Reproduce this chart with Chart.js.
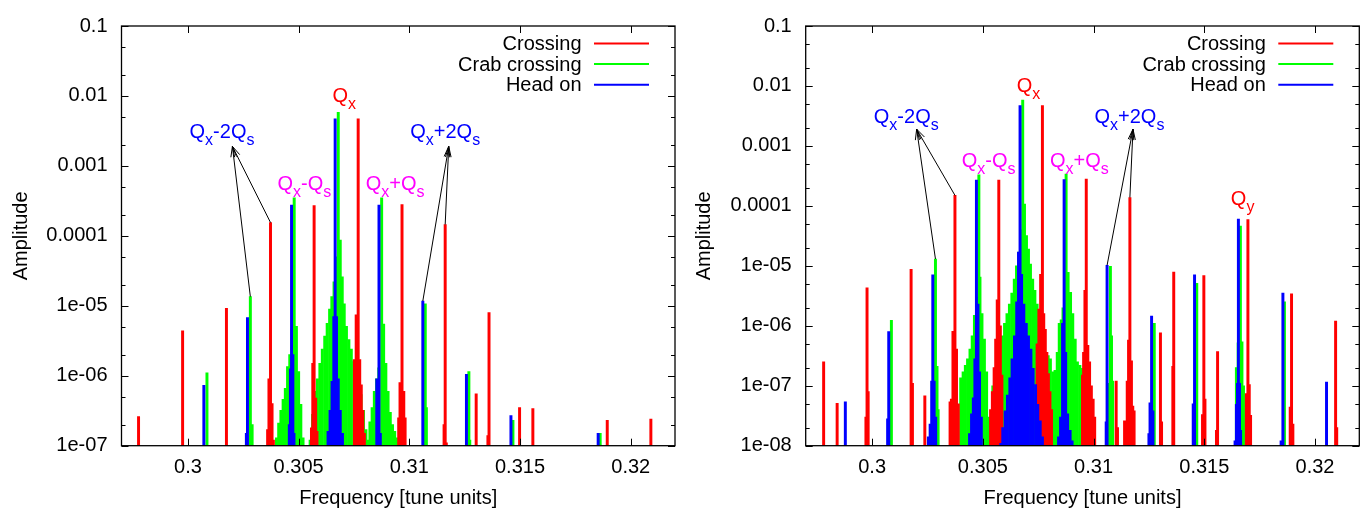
<!DOCTYPE html>
<html>
<head>
<meta charset="utf-8">
<script src="https://cdn.jsdelivr.net/npm/chart.js@4.4.1/dist/chart.umd.min.js"></script>
<style>
  html, body { margin: 0; padding: 0; background: #fff; }
  #wrap { position: relative; width: 1366px; height: 510px; }
  canvas { position: absolute; top: 0; }
</style>
</head>
<body>
<div id="wrap">
  <canvas id="left" width="683" height="510" style="left:0"></canvas>
  <canvas id="right" width="683" height="510" style="left:683px"></canvas>
</div>
<script>
// series (frequency [tune units], amplitude)
const seriesNames = ['Crossing', 'Crab crossing', 'Head on'];
const seriesColors = ['#ff0000', '#00ff00', '#0000ff'];

const xTicks = [0.3, 0.305, 0.31, 0.315, 0.32];
const xTickLabels = ['0.3', '0.305', '0.31', '0.315', '0.32'];
const yTicksLeft = [1e-7, 1e-6, 1e-5, 1e-4, 1e-3, 1e-2, 1e-1];
const yTickLabelsLeft = ['1e-07', '1e-06', '1e-05', '0.0001', '0.001', '0.01', '0.1'];
const yTicksRight = [1e-8, 1e-7, 1e-6, 1e-5, 1e-4, 1e-3, 1e-2, 1e-1];
const yTickLabelsRight = ['1e-08', '1e-07', '1e-06', '1e-05', '0.0001', '0.001', '0.01', '0.1'];

const crossingLeft = [
  [0.29777, 2.6e-7],
  [0.29976, 4.4e-6],
  [0.30174, 9.2e-6],
  [0.30360, 1.7e-7], [0.30366, 9e-7], [0.30373, 1.55e-4], [0.30380, 4e-7], [0.30386, 1.2e-7],
  [0.30558, 1.8e-7], [0.30564, 1.5e-6], [0.30570, 2.7e-4], [0.30577, 4.8e-7], [0.30583, 1.6e-7],
  [0.30752, 1.7e-6], [0.30760, 7.4e-6], [0.30769, 4.7e-3], [0.30776, 1.7e-6], [0.30783, 7.4e-7], [0.30790, 3.2e-7], [0.30797, 1.5e-7],
  [0.30952, 2.5e-7], [0.30958, 8e-7], [0.30967, 2.8e-4], [0.30975, 6e-7], [0.30981, 2.5e-7],
  [0.31157, 2e-7], [0.31162, 1.45e-4], [0.31167, 1.1e-7],
  [0.31302, 5.5e-7],
  [0.31355, 1.4e-7], [0.31360, 8e-6],
  [0.31498, 3.5e-7],
  [0.31558, 3.4e-7],
  [0.31894, 2.3e-7],
  [0.32091, 2.4e-7]
];

const crabLeft = [
  [0.30086, 1.1e-6],
  [0.30282, 1.35e-5], [0.30290, 2e-7],
  [0.30400, 1.3e-7], [0.30410, 2.1e-7], [0.30420, 3.2e-7], [0.30430, 4.6e-7], [0.30440, 6.6e-7],
  [0.30450, 1.35e-6], [0.30460, 2.0e-6], [0.30470, 4.7e-6], [0.30480, 3.5e-4], [0.30490, 5.1e-6],
  [0.30500, 1.15e-6], [0.30510, 3.9e-7], [0.30520, 1.3e-7],
  [0.30552, 1.2e-7], [0.30563, 2.8e-7], [0.30574, 6e-7], [0.30585, 9e-7], [0.30596, 1.5e-6],
  [0.30607, 2.4e-6], [0.30618, 3.7e-6], [0.30629, 5.6e-6], [0.30640, 9e-6], [0.30650, 1.35e-5],
  [0.30660, 2.2e-5], [0.30670, 5e-5], [0.30679, 5.85e-3], [0.30688, 8.7e-5], [0.30697, 2.6e-5],
  [0.30706, 1.07e-5], [0.30716, 5.1e-6], [0.30727, 3.3e-6], [0.30738, 2.4e-6], [0.30749, 1.6e-6],
  [0.30760, 1.26e-6], [0.30771, 8.3e-7], [0.30782, 5.4e-7], [0.30793, 3.2e-7], [0.30804, 1.7e-7],
  [0.30815, 1.2e-7],
  [0.30822, 2.2e-7], [0.30832, 3.5e-7], [0.30842, 6e-7], [0.30852, 9e-7], [0.30862, 1.3e-6],
  [0.30875, 3.5e-4], [0.30884, 5.5e-6], [0.30894, 1.5e-6], [0.30904, 6e-7], [0.30914, 3e-7],
  [0.30924, 2e-7], [0.30934, 1.6e-7], [0.30944, 1.3e-7],
  [0.31067, 1.3e-7], [0.31072, 1.07e-5], [0.31077, 3.5e-7],
  [0.31269, 1.15e-6], [0.31273, 1.2e-7],
  [0.31468, 2.3e-7],
  [0.31862, 1.5e-7]
];

const headOnLeft = [
  [0.30072, 7.3e-7],
  [0.30264, 1.5e-7], [0.30269, 6.8e-6],
  [0.30458, 2e-7], [0.30463, 1.26e-6], [0.30468, 2.75e-4], [0.30474, 2e-6], [0.30479, 1.5e-7],
  [0.30633, 1.6e-7], [0.30642, 3.2e-7], [0.30651, 8.3e-7], [0.30659, 7e-6], [0.30665, 4.7e-3],
  [0.30671, 7e-6], [0.30679, 9e-7], [0.30688, 3.2e-7], [0.30698, 1.5e-7],
  [0.30853, 9e-7], [0.30863, 2.75e-4], [0.30869, 1.5e-7],
  [0.31061, 1.17e-5],
  [0.31258, 1.05e-6],
  [0.31459, 2.7e-7],
  [0.31853, 1.5e-7]
];

const crossingRight = [
  [0.29781, 2.5e-7],
  [0.29842, 5.1e-8],
  [0.29972, 3e-8], [0.29977, 4.3e-6], [0.29982, 8e-8],
  [0.30176, 8.7e-6], [0.30182, 1.1e-7],
  [0.30238, 6.8e-8],
  [0.30352, 5.4e-8], [0.30358, 6e-8], [0.30365, 8.1e-7], [0.30374, 1.5e-4], [0.30381, 4.1e-7], [0.30389, 5e-8],
  [0.30535, 4e-8], [0.30543, 8e-8], [0.30551, 2e-7], [0.30558, 6e-7], [0.30565, 2.7e-6], [0.30572, 2.7e-4],
  [0.30579, 1e-6], [0.30586, 1.5e-7],
  [0.30745, 5e-7], [0.30753, 1.9e-6], [0.30761, 7.2e-6], [0.30769, 4.7e-3], [0.30775, 1.6e-6],
  [0.30782, 8.7e-7], [0.30789, 3.6e-7], [0.30796, 1.6e-7], [0.30803, 8e-8], [0.30810, 4e-8],
  [0.30950, 1.5e-7], [0.30955, 3.6e-7], [0.30961, 3.9e-6], [0.30967, 2.8e-4], [0.30974, 4.7e-7],
  [0.30982, 2.5e-7], [0.30990, 1e-7], [0.30998, 6e-8], [0.31005, 3e-8],
  [0.31102, 1.2e-7], [0.31108, 2e-8],
  [0.31140, 2.6e-8], [0.31152, 1.2e-7], [0.31158, 5.8e-7], [0.31164, 1.38e-4], [0.31171, 2.6e-7],
  [0.31177, 4.6e-8], [0.31183, 3.8e-8],
  [0.31302, 7.6e-7], [0.31307, 2.5e-8],
  [0.31358, 2.1e-7], [0.31362, 7.9e-6],
  [0.31492, 3.3e-8], [0.31498, 6.9e-6], [0.31503, 6e-8],
  [0.31555, 1.8e-8], [0.31560, 3.7e-7],
  [0.31690, 7.4e-8], [0.31697, 5.9e-5], [0.31703, 1.05e-7], [0.31709, 3.2e-8],
  [0.31888, 4.4e-8], [0.31894, 3.4e-6], [0.31900, 2.3e-8],
  [0.32093, 1.2e-6], [0.32098, 2e-8]
];

const crabRight = [
  [0.30087, 1.23e-6],
  [0.30286, 1.3e-5], [0.30293, 2.1e-7], [0.30298, 4e-8],
  [0.30400, 1.35e-7], [0.30411, 1.7e-7], [0.30421, 2.2e-7], [0.30431, 2.8e-7], [0.30442, 4.1e-7],
  [0.30452, 6.8e-7], [0.30462, 1.5e-6], [0.30472, 3e-6], [0.30482, 3.3e-4], [0.30487, 6.5e-6],
  [0.30496, 1.6e-6], [0.30507, 6e-7], [0.30517, 1.7e-7], [0.30526, 3e-8],
  [0.30545, 1e-7], [0.30556, 1.8e-7], [0.30566, 2.8e-7], [0.30577, 4.1e-7], [0.30588, 6.8e-7],
  [0.30598, 1.1e-6], [0.30609, 1.6e-6], [0.30620, 2.3e-6], [0.30631, 3.5e-6], [0.30642, 6e-6],
  [0.30652, 1e-5], [0.30663, 1.7e-5], [0.30672, 4e-5], [0.30680, 5.8e-3], [0.30688, 1.07e-4],
  [0.30697, 3.2e-5], [0.30706, 1.9e-5], [0.30715, 1.07e-5], [0.30725, 6e-6], [0.30735, 3.9e-6],
  [0.30745, 2.3e-6], [0.30755, 1.5e-6], [0.30765, 8.1e-7], [0.30775, 6e-7], [0.30785, 3.6e-7],
  [0.30795, 3.2e-7], [0.30805, 2.8e-7], [0.30816, 1.7e-7], [0.30826, 1.8e-7], [0.30836, 3.6e-7],
  [0.30845, 1.1e-6], [0.30854, 1.26e-6], [0.30862, 2e-6], [0.30876, 3.4e-4], [0.30885, 7.8e-6],
  [0.30896, 3.6e-6], [0.30906, 1.6e-6], [0.30917, 6e-7], [0.30927, 2.5e-7], [0.30938, 2.2e-7],
  [0.30948, 1.95e-7], [0.30958, 1.95e-7], [0.30968, 1.5e-7], [0.30978, 1e-7], [0.30988, 5e-8],
  [0.31068, 1.1e-7], [0.31076, 9.8e-6], [0.31081, 6.8e-7], [0.31086, 1.2e-7],
  [0.31268, 2.2e-7], [0.31274, 1.1e-6],
  [0.31466, 5.1e-6],
  [0.31645, 2e-7], [0.31653, 5.2e-7], [0.31663, 4.6e-5], [0.31670, 5.4e-7], [0.31677, 1e-7],
  [0.31858, 3e-8], [0.31862, 2.5e-6]
];

const headOnRight = [
  [0.29879, 5.4e-8],
  [0.30070, 2.8e-8], [0.30075, 8e-7],
  [0.30254, 1.4e-8], [0.30262, 2.3e-8], [0.30269, 1.2e-7], [0.30274, 7.1e-6], [0.30280, 1.2e-7], [0.30287, 3e-8],
  [0.30440, 1.6e-8], [0.30449, 3.4e-8], [0.30457, 6.3e-8], [0.30464, 2.8e-7], [0.30471, 2.7e-4],
  [0.30478, 2.3e-6], [0.30485, 1.7e-7], [0.30493, 3e-8],
  [0.30581, 1.1e-8], [0.30590, 2e-8], [0.30601, 3.8e-8], [0.30611, 7e-8], [0.30622, 1.35e-7],
  [0.30632, 2.8e-7], [0.30643, 6.8e-7], [0.30653, 2.5e-6], [0.30661, 1.7e-5], [0.30668, 4.7e-3],
  [0.30675, 7.2e-6], [0.30685, 2.3e-6], [0.30696, 1.1e-6], [0.30706, 6.8e-7], [0.30717, 4.1e-7],
  [0.30727, 1.95e-7], [0.30738, 1.05e-7], [0.30748, 4.9e-8], [0.30759, 2.6e-8], [0.30769, 1.4e-8],
  [0.30842, 1.4e-8], [0.30851, 3e-8], [0.30860, 1.1e-6], [0.30867, 2.75e-4], [0.30874, 3.6e-7],
  [0.30883, 3.4e-8], [0.30894, 1.8e-8], [0.30903, 1.2e-8],
  [0.31057, 2.5e-8], [0.31061, 1.02e-5],
  [0.31250, 1.6e-8], [0.31255, 5.2e-8], [0.31262, 1.45e-6], [0.31268, 3.8e-8],
  [0.31450, 5e-8], [0.31456, 7.1e-6],
  [0.31639, 1.2e-8], [0.31645, 4.9e-8], [0.31650, 1.1e-7], [0.31654, 6e-5], [0.31659, 1.1e-7], [0.31664, 1.8e-8],
  [0.31847, 1.2e-8], [0.31855, 3.5e-6],
  [0.32052, 1.15e-7]
];

// annotations: text ('_' = subscript next char), frequency, amplitude, colour
const peakLabels = [
  ['Q_x-2Q_s', 0.30154, 3.2e-3, '#0000ff'],
  ['Q_x+2Q_s', 0.31162, 3.2e-3, '#0000ff'],
  ['Q_x-Q_s', 0.30526, 5.75e-4, '#ff00ff'],
  ['Q_x+Q_s', 0.30936, 5.75e-4, '#ff00ff'],
  ['Q_x', 0.30706, 1.03e-2, '#ff0000']
];
const peakLabelsRightOnly = [
  ['Q_y', 0.31673, 1.35e-4, '#ff0000']
];
const arrowTips = [[0.30201, 1.9e-3], [0.31178, 1.9e-3]];
const arrowTailsLeft = [[0, 0.30282, 1.35e-5], [0, 0.30373, 1.55e-4], [1, 0.31061, 1.17e-5], [1, 0.31162, 1.45e-4]];
const arrowTailsRight = [[0, 0.30286, 1.3e-5], [0, 0.30374, 1.5e-4], [1, 0.31061, 1.02e-5], [1, 0.31164, 1.38e-4]];

const FONT = '"Liberation Sans", Arial, Helvetica, sans-serif';
Chart.defaults.font.family = FONT;
Chart.defaults.color = '#000';

function drawRich(ctx, str, cx, cy, color) {
  const parts = [];
  for (let i = 0; i < str.length; i++) {
    if (str[i] === '_') { parts.push([str[i + 1], true]); i++; }
    else parts.push([str[i], false]);
  }
  const main = '20px ' + FONT, sub = '16px ' + FONT;
  let w = 0;
  parts.forEach(p => { ctx.font = p[1] ? sub : main; w += ctx.measureText(p[0]).width; });
  let x = cx - w / 2;
  const base = cy + 7;
  ctx.fillStyle = color;
  ctx.textAlign = 'left';
  ctx.textBaseline = 'alphabetic';
  parts.forEach(p => {
    ctx.font = p[1] ? sub : main;
    ctx.fillText(p[0], x, p[1] ? base + 7 : base);
    x += ctx.measureText(p[0]).width;
  });
}

function drawArrow(ctx, x0, y0, x1, y1) {
  const ang = Math.atan2(y1 - y0, x1 - x0);
  const len = 11, spread = 0.26;
  ctx.beginPath();
  ctx.moveTo(x0, y0);
  ctx.lineTo(x1, y1);
  ctx.moveTo(x1 - len * Math.cos(ang - spread), y1 - len * Math.sin(ang - spread));
  ctx.lineTo(x1, y1);
  ctx.lineTo(x1 - len * Math.cos(ang + spread), y1 - len * Math.sin(ang + spread));
  ctx.stroke();
}

const gnuplotFrame = {
  id: 'gnuplotFrame',
  afterDatasetsDraw(chart, args, opts) {
    const { ctx, chartArea: a } = chart;
    const x = chart.scales.x, y = chart.scales.y;
    ctx.save();
    ctx.strokeStyle = '#000';
    ctx.lineWidth = 1;
    ctx.beginPath();
    xTicks.forEach(v => {
      const px = Math.round(x.getPixelForValue(v)) + 0.5;
      ctx.moveTo(px, a.bottom); ctx.lineTo(px, a.bottom - 7);
      ctx.moveTo(px, a.top); ctx.lineTo(px, a.top + 7);
    });
    opts.yTicks.forEach((v, i) => {
      const py = Math.round(y.getPixelForValue(v)) + 0.5;
      ctx.moveTo(a.left, py); ctx.lineTo(a.left + 7, py);
      ctx.moveTo(a.right, py); ctx.lineTo(a.right - 7, py);
      if (i < opts.yTicks.length - 1) {
        [2, 5].forEach(m => {
          const pm = Math.round(y.getPixelForValue(v * m)) + 0.5;
          ctx.moveTo(a.left, pm); ctx.lineTo(a.left + 4, pm);
          ctx.moveTo(a.right, pm); ctx.lineTo(a.right - 4, pm);
        });
      }
    });
    ctx.stroke();
    ctx.lineWidth = 1.3;
    ctx.strokeRect(a.left, a.top, a.right - a.left, a.bottom - a.top);

    // legend, gnuplot style
    ctx.font = '20px ' + FONT;
    ctx.textAlign = 'right';
    ctx.textBaseline = 'middle';
    chart.data.datasets.forEach((ds, i) => {
      const ly = a.top + 17.5 + i * 20.6;
      ctx.fillStyle = '#000';
      ctx.fillText(ds.label, a.right - 93.5, ly + 1);
      ctx.strokeStyle = ds.backgroundColor;
      ctx.lineWidth = 2;
      ctx.beginPath();
      ctx.moveTo(a.right - 81, ly); ctx.lineTo(a.right - 26, ly);
      ctx.stroke();
    });

    // arrows
    ctx.strokeStyle = '#000';
    ctx.lineWidth = 1;
    opts.tails.forEach(t => {
      const tip = arrowTips[t[0]];
      drawArrow(ctx, x.getPixelForValue(t[1]), y.getPixelForValue(t[2]),
        x.getPixelForValue(tip[0]), y.getPixelForValue(tip[1]));
    });

    // peak labels
    opts.labels.forEach(l => {
      drawRich(ctx, l[0], x.getPixelForValue(l[1]), y.getPixelForValue(l[2]), l[3]);
    });
    ctx.restore();
  }
};

function toPoints(pairs) {
  return pairs.map(p => ({ x: p[0], y: p[1] }));
}

function makeChart(id, series, yTicks, yLabels, frame, tails, labels) {
  const orders = [1, 2, 0]; // head on on top, crab crossing underneath
  const datasets = series.map((s, i) => ({
    label: seriesNames[i],
    data: toPoints(s),
    backgroundColor: seriesColors[i],
    order: orders[i]
  }));
  return new Chart(document.getElementById(id), {
    type: 'bar',
    data: { datasets },
    plugins: [gnuplotFrame],
    options: {
      responsive: false,
      animation: false,
      devicePixelRatio: 1,
      layout: { padding: { top: frame.top, right: 683 - frame.right, bottom: 0, left: 0 } },
      datasets: { bar: { barThickness: 2.3, grouped: false, borderWidth: 0 } },
      plugins: {
        legend: { display: false },
        tooltip: { enabled: false },
        gnuplotFrame: { yTicks, tails, labels }
      },
      scales: {
        x: {
          type: 'linear', min: 0.297, max: 0.322, offset: false,
          grid: { display: false, drawTicks: false },
          border: { display: false },
          afterBuildTicks: s => { s.ticks = xTicks.map(v => ({ value: v })); },
          afterFit: s => { s.height = 510 - frame.bottom; },
          ticks: {
            padding: 10, maxRotation: 0, autoSkip: false,
            font: { size: 20 }, color: '#000',
            callback: (v, i) => xTickLabels[i]
          },
          title: {
            display: true, text: 'Frequency [tune units]', color: '#000',
            font: { size: 20 }, padding: { top: 0, bottom: 0 }
          }
        },
        y: {
          type: 'logarithmic', min: yTicks[0], max: 0.1,
          grid: { display: false, drawTicks: false },
          border: { display: false },
          afterBuildTicks: s => { s.ticks = yTicks.map(v => ({ value: v })); },
          afterFit: s => { s.width = frame.left; },
          ticks: {
            padding: 14, autoSkip: false,
            font: { size: 20 }, color: '#000',
            callback: (v, i) => yLabels[i]
          },
          title: {
            display: true, text: 'Amplitude', color: '#000',
            font: { size: 20 }, padding: { top: 9, bottom: 0 }
          }
        }
      }
    }
  });
}

makeChart('left', [crossingLeft, crabLeft, headOnLeft], yTicksLeft, yTickLabelsLeft,
  { left: 121.5, right: 675, top: 16, bottom: 445.7 }, arrowTailsLeft, peakLabels);
makeChart('right', [crossingRight, crabRight, headOnRight], yTicksRight, yTickLabelsRight,
  { left: 122.7, right: 676.3, top: 16, bottom: 445.7 }, arrowTailsRight, peakLabels.concat(peakLabelsRightOnly));
</script>
</body>
</html>
